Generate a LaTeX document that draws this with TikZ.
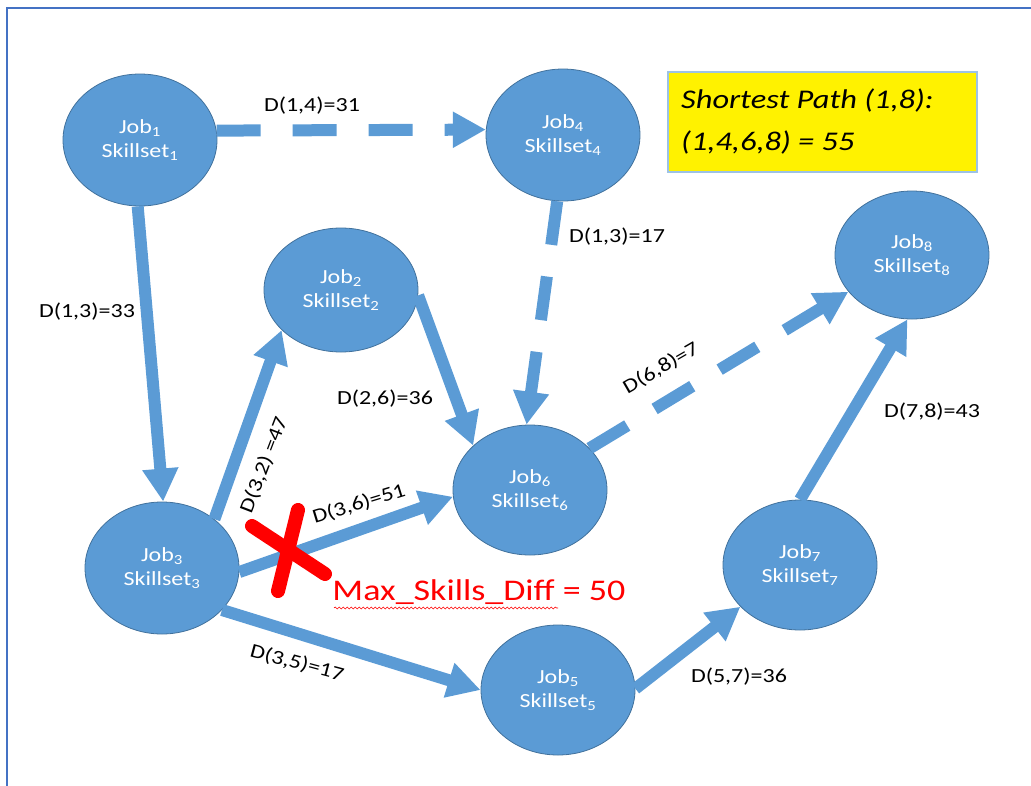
\documentclass[tikz,border=0pt]{standalone}
\usepackage{fontspec}
\setmainfont{Carlito}[FakeStretch=1.2]
\usetikzlibrary{arrows.meta,shapes.geometric,decorations.pathmorphing}
\definecolor{nodeblue}{HTML}{5B9BD5}
\definecolor{nodeedge}{HTML}{41719C}
\definecolor{frameblue}{HTML}{4472C4}
\definecolor{boxedge}{HTML}{9DC3E6}
\tikzset{
  job/.style={ellipse, fill=nodeblue, draw=nodeedge, line width=0.8pt,
    minimum width=154pt, minimum height=132pt, inner sep=0pt,
    text=white, align=center, font=\fontsize{20}{24}\selectfont},
  conn/.style={draw=nodeblue, line width=12pt,
    -{Triangle[length=33pt,width=34pt]}},
  dashconn/.style={conn, dash pattern=on 44pt off 32pt},
  lbl/.style={font=\fontsize{20}{24}\selectfont, text=black, inner sep=1pt},
  redx/.style={draw=red, line width=14pt, line cap=round}
}
\begin{document}
\begin{tikzpicture}[x=1pt,y=-1pt]
\useasboundingbox (0,0) rectangle (1031,785);
% frame
\draw[frameblue, line width=2.5pt] (7,790) -- (7,8) -- (1040,8);

% nodes
\node[job] (j1) at (140,140) {Job\textsubscript{1}\\Skillset\textsubscript{1}};
\node[job] (j4) at (563,135) {Job\textsubscript{4}\\Skillset\textsubscript{4}};
\node[job, minimum height=124pt] (j2) at (341,290) {Job\textsubscript{2}\\Skillset\textsubscript{2}};
\node[job, minimum height=128pt] (j8) at (912,255) {Job\textsubscript{8}\\Skillset\textsubscript{8}};
\node[job, minimum height=130pt] (j6) at (530,490) {Job\textsubscript{6}\\Skillset\textsubscript{6}};
\node[job] (j3) at (162,568) {Job\textsubscript{3}\\Skillset\textsubscript{3}};
\node[job, minimum height=130pt] (j7) at (800,565) {Job\textsubscript{7}\\Skillset\textsubscript{7}};
\node[job, minimum height=130pt] (j5) at (558,690) {Job\textsubscript{5}\\Skillset\textsubscript{5}};

% yellow box
\node[draw=boxedge, fill=yellow, line width=1.5pt, minimum width=309pt, minimum height=100pt,
      inner sep=0pt] (sp) at (822.5,122) {};
\node[anchor=west, align=left, font=\fontsize{27}{42}\itshape\selectfont, inner sep=0pt] (sptext) at (681,121)
  {Shortest Path (1,8):\\(1,4,6,8) = 55};

% connectors
\draw[dashconn] (j1.7) -- (j4.176);
\draw[conn] (j1.-92) -- (j3.89);
\draw[dashconn] (j4.-95) -- (j6.93);
\draw[conn] (j3.43) -- (j2.214);
\draw[conn] (j2.-4) -- (j6.142);
\draw[conn] (j3.-3) -- (j6.185);
\draw[conn] (j3.-35) -- (j5.180);
\draw[conn] (j5.1) -- (j7.215);
\draw[conn] (j7.90) -- (j8.266);
\draw[dashconn] (j6.35) -- (j8.210);

% labels
\node[lbl] (l14) at (312,106) {D(1,4)=31};
\node[lbl] (l13) at (87,312) {D(1,3)=33};
\node[lbl] (l417) at (617,237) {D(1,3)=17};
\node[lbl] (l26) at (385,399) {D(2,6)=36};
\node[lbl, rotate=69] (l32) at (264,465) {D(3,2) =47};
\node[lbl, rotate=17] (l36) at (359,504) {D(3,6)=51};
\node[lbl, rotate=-15] (l35) at (297,663) {D(3,5)=17};
\node[lbl] (l57) at (739,677) {D(5,7)=36};
\node[lbl] (l78) at (932,412) {D(7,8)=43};
\node[lbl, rotate=30] (l68) at (661,368) {D(6,8)=7};

% red X
\coordinate (xa) at (252,526);
\coordinate (xb) at (325,574);
\coordinate (xc) at (298,510);
\coordinate (xd) at (278,591);
\draw[redx] (xa) -- (xb);
\draw[redx] (xc) -- (xd);

% max skills text
\node[font=\fontsize{30}{36}\selectfont, text=red, inner sep=0pt] (maxd) at (479,592) {Max\_Skills\_Diff = 50};
\coordinate (ua) at (334,608);
\coordinate (ub) at (558,608);
\draw[red, line width=0.6pt, decorate, decoration={snake, amplitude=1pt, segment length=4pt}] (ua) -- (ub);
\end{tikzpicture}
\end{document}
